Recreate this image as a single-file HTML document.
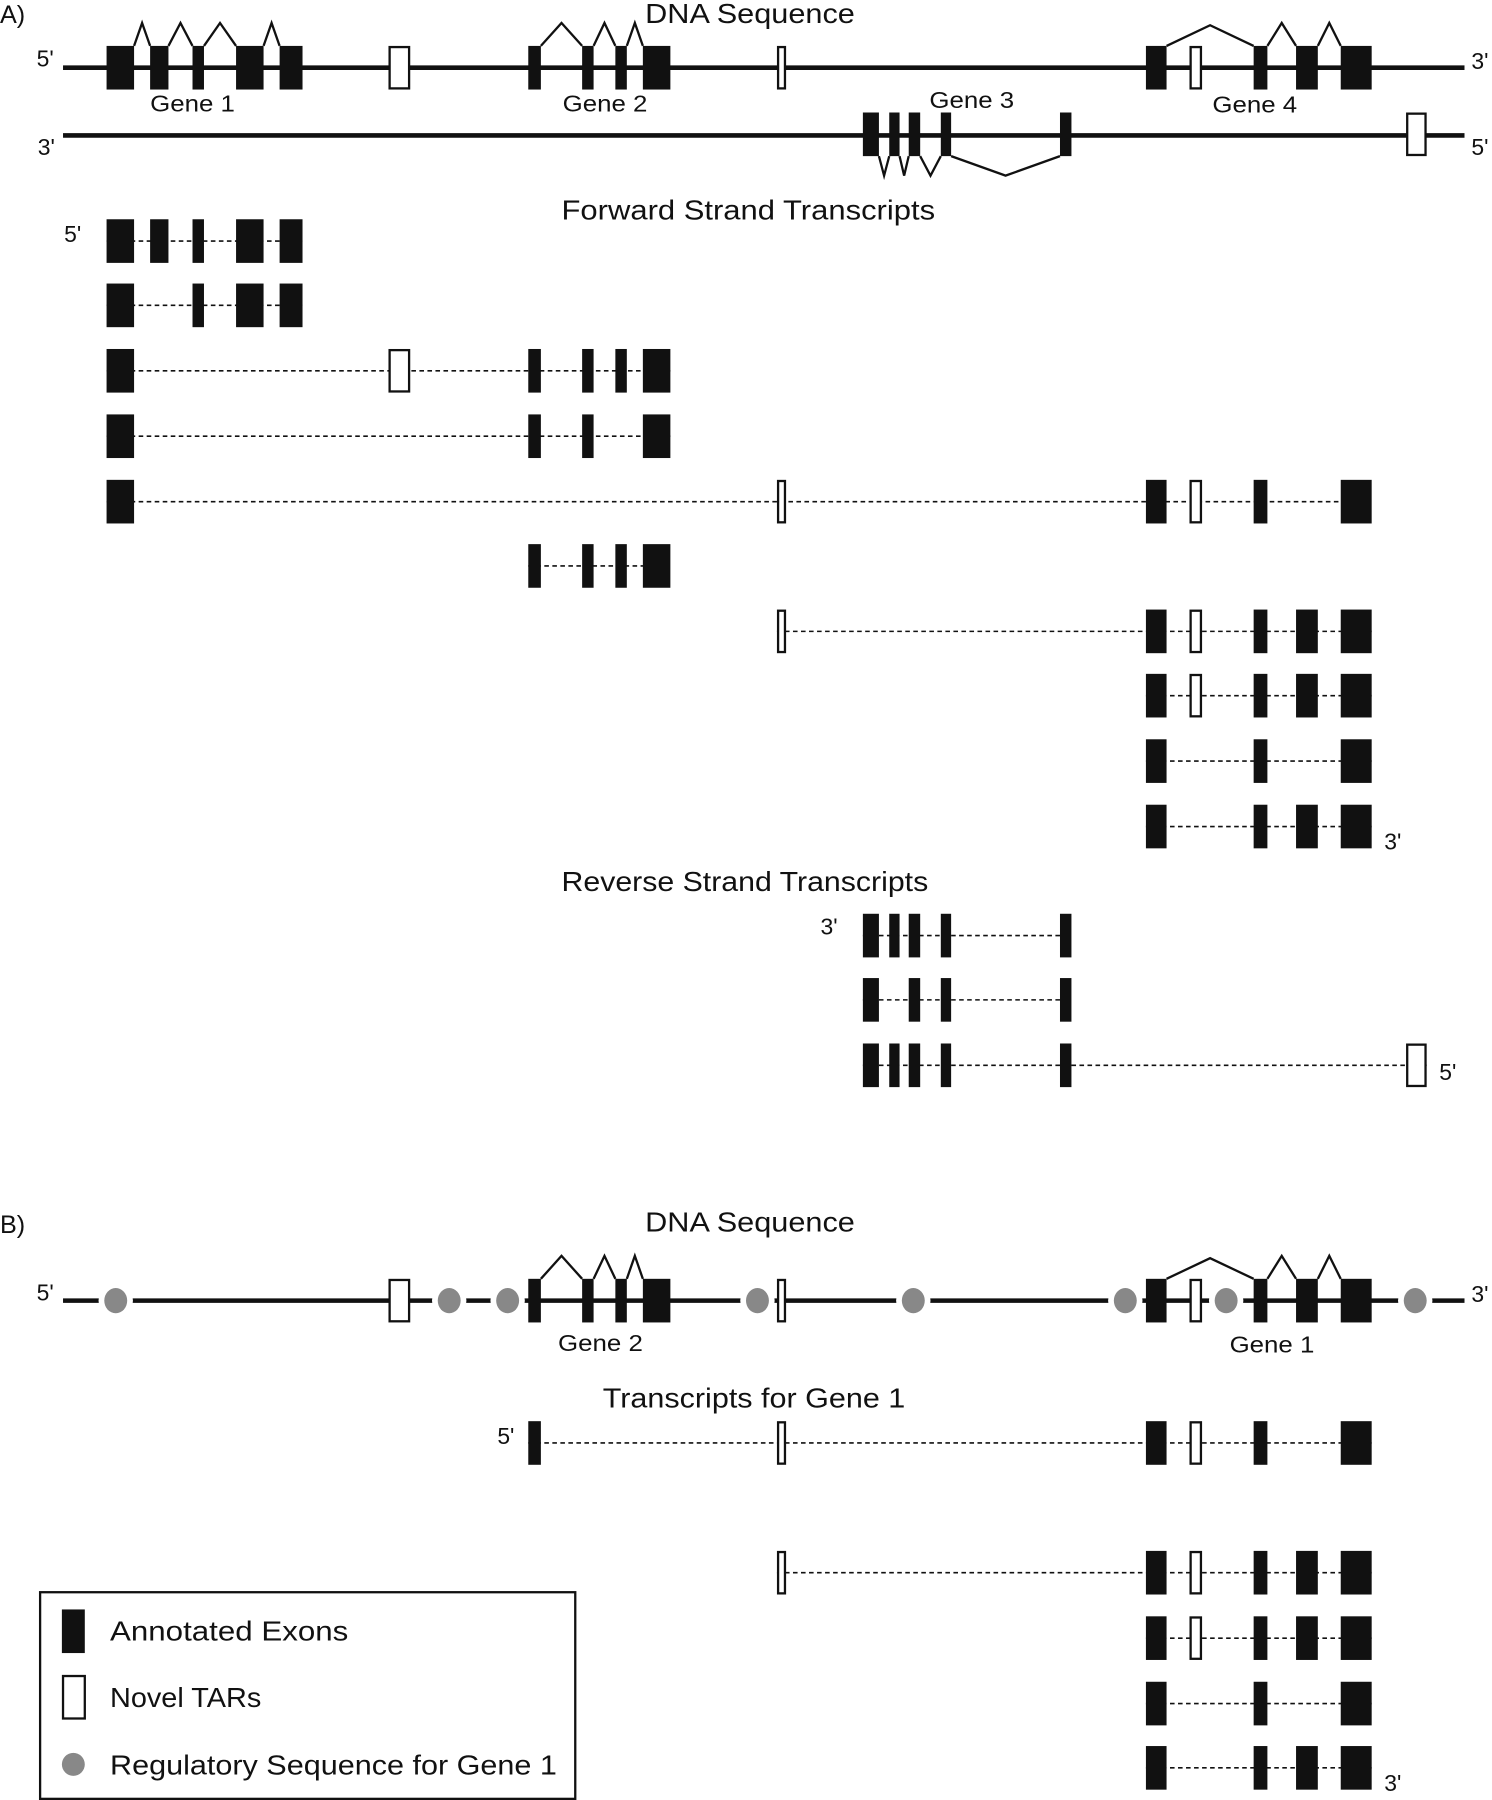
<!DOCTYPE html>
<html><head><meta charset="utf-8"><style>
html,body{margin:0;padding:0;background:#fff;}
svg{display:block;}
text{font-family:"Liberation Sans",sans-serif;fill:#111;}
</style></head><body>
<svg id="s" xmlns="http://www.w3.org/2000/svg" width="1492" height="1800" viewBox="0 0 1302 1568" preserveAspectRatio="none">
<g id="g"></g>
<text x="0" y="20" font-size="22">A)</text>
<text x="563" y="20" font-size="24" textLength="183" lengthAdjust="spacingAndGlyphs">DNA Sequence</text>
<text x="32" y="58" font-size="20">5'</text>
<text x="1284" y="60" font-size="20">3'</text>
<text x="131" y="97" font-size="20" textLength="74" lengthAdjust="spacingAndGlyphs">Gene 1</text>
<text x="491" y="97" font-size="20" textLength="74" lengthAdjust="spacingAndGlyphs">Gene 2</text>
<text x="811" y="94" font-size="20" textLength="74" lengthAdjust="spacingAndGlyphs">Gene 3</text>
<text x="1058" y="98" font-size="20" textLength="74" lengthAdjust="spacingAndGlyphs">Gene 4</text>
<text x="33" y="135" font-size="20">3'</text>
<text x="1284" y="135" font-size="20">5'</text>
<text x="490" y="191" font-size="24" textLength="326" lengthAdjust="spacingAndGlyphs">Forward Strand Transcripts</text>
<text x="56" y="211" font-size="20">5'</text>
<text x="1208" y="740" font-size="20">3'</text>
<text x="490" y="776" font-size="24" textLength="320" lengthAdjust="spacingAndGlyphs">Reverse Strand Transcripts</text>
<text x="716" y="814" font-size="20">3'</text>
<text x="1256" y="941" font-size="20">5'</text>
<text x="0" y="1074" font-size="22">B)</text>
<text x="563" y="1073" font-size="24" textLength="183" lengthAdjust="spacingAndGlyphs">DNA Sequence</text>
<text x="32" y="1133" font-size="20">5'</text>
<text x="1284" y="1134" font-size="20">3'</text>
<text x="487" y="1177" font-size="20" textLength="74" lengthAdjust="spacingAndGlyphs">Gene 2</text>
<text x="1073" y="1178" font-size="20" textLength="74" lengthAdjust="spacingAndGlyphs">Gene 1</text>
<text x="526" y="1226" font-size="24" textLength="264" lengthAdjust="spacingAndGlyphs">Transcripts for Gene 1</text>
<text x="434" y="1258" font-size="20">5'</text>
<text x="1208" y="1560" font-size="20">3'</text>
<rect x="35" y="1387" width="467" height="180" fill="none" stroke="#111" stroke-width="2"/>
<rect x="54" y="1402" width="20" height="38" fill="#111"/>
<text x="96" y="1429" font-size="24" textLength="208" lengthAdjust="spacingAndGlyphs">Annotated Exons</text>
<rect x="55" y="1460" width="19" height="37" fill="#fff" stroke="#111" stroke-width="2"/>
<text x="96" y="1487" font-size="24" textLength="132" lengthAdjust="spacingAndGlyphs">Novel TARs</text>
<ellipse cx="64" cy="1537" rx="10" ry="10" fill="#888"/>
<text x="96" y="1546" font-size="24" textLength="390" lengthAdjust="spacingAndGlyphs">Regulatory Sequence for Gene 1</text>
</svg>
<script>
var g=document.getElementById('g'),NS='http://www.w3.org/2000/svg';
function el(t,a){var e=document.createElementNS(NS,t);for(var k in a)e.setAttribute(k,a[k]);g.appendChild(e);return e;}
var E={g1a:[93,117],g1b:[131,147],g1c:[168,178],g1d:[206,230],g1e:[244,264],n1:[339,358],
g2a:[461,472],g2b:[508,518],g2c:[537,547],g2d:[561,585],n2:[678,686],
g4a:[1000,1018],n4:[1038,1049],g4b:[1094,1106],g4c:[1131,1150],g4d:[1170,1197],
g3a:[753,767],g3b:[776,785],g3c:[793,803],g3d:[821,830],g3e:[925,935],n3:[1227,1245]};
function ex(k,cy,h){var e=E[k];h=h||38;var nov=k[0]=='n';
 if(nov)el('rect',{x:e[0]+1,y:cy-h/2+1,width:e[1]-e[0]-2,height:h-2,fill:'#fff',stroke:'#111','stroke-width':2});
 else el('rect',{x:e[0],y:cy-h/2,width:e[1]-e[0],height:h,fill:'#111'});}
function row(keys,cy){var a=E[keys[0]][0],b=E[keys[keys.length-1]][1];
 el('line',{x1:a,y1:cy,x2:b,y2:cy,stroke:'#111','stroke-width':1.4,'stroke-dasharray':'4,3'});
 keys.forEach(function(k){ex(k,cy);});}
function line(y){el('line',{x1:55,y1:y,x2:1278,y2:y,stroke:'#111','stroke-width':4});}
function intr(pairs,y,peak){pairs.forEach(function(p){var a=E[p[0]][1],b=E[p[1]][0];
 el('polyline',{points:a+','+y+' '+(a+b)/2+','+peak+' '+b+','+y,fill:'none',stroke:'#111','stroke-width':2});});}
// A top
line(59);
intr([['g1a','g1b'],['g1b','g1c'],['g1c','g1d'],['g1d','g1e'],['g2a','g2b'],['g2b','g2c'],['g2c','g2d'],['g4b','g4c'],['g4c','g4d']],40,20);
intr([['g4a','g4b']],40,22);
['g1a','g1b','g1c','g1d','g1e','n1','g2a','g2b','g2c','g2d','n2','g4a','n4','g4b','g4c','g4d'].forEach(function(k){ex(k,59);});
line(118);
intr([['g3a','g3b'],['g3b','g3c'],['g3c','g3d']],136,153);
intr([['g3d','g3e']],136,153);
['g3a','g3b','g3c','g3d','g3e','n3'].forEach(function(k){ex(k,117);});
// forward
row(['g1a','g1b','g1c','g1d','g1e'],210);
row(['g1a','g1c','g1d','g1e'],266);
row(['g1a','n1','g2a','g2b','g2c','g2d'],323);
row(['g1a','g2a','g2b','g2d'],380);
row(['g1a','n2','g4a','n4','g4b','g4d'],437);
row(['g2a','g2b','g2c','g2d'],493);
row(['n2','g4a','n4','g4b','g4c','g4d'],550);
row(['g4a','n4','g4b','g4c','g4d'],606);
row(['g4a','g4b','g4d'],663);
row(['g4a','g4b','g4c','g4d'],720);
// reverse
row(['g3a','g3b','g3c','g3d','g3e'],815);
row(['g3a','g3c','g3d','g3e'],871);
row(['g3a','g3b','g3c','g3d','g3e','n3'],928);
// B
line(1133);
intr([['g2a','g2b'],['g2b','g2c'],['g2c','g2d'],['g4b','g4c'],['g4c','g4d']],1114,1094);
intr([['g4a','g4b']],1114,1096);
['n1','g2a','g2b','g2c','g2d','n2','g4a','n4','g4b','g4c','g4d'].forEach(function(k){ex(k,1133);});
[101,392,443,661,797,982,1070,1235].forEach(function(x){el('ellipse',{cx:x,cy:1133,rx:15,ry:14,fill:'#fff'});el('ellipse',{cx:x,cy:1133,rx:10,ry:11,fill:'#888'});});
row(['g2a','n2','g4a','n4','g4b','g4d'],1257);
row(['n2','g4a','n4','g4b','g4c','g4d'],1370);
row(['g4a','n4','g4b','g4c','g4d'],1427);
row(['g4a','g4b','g4d'],1484);
row(['g4a','g4b','g4c','g4d'],1540);
</script>
</body></html>
